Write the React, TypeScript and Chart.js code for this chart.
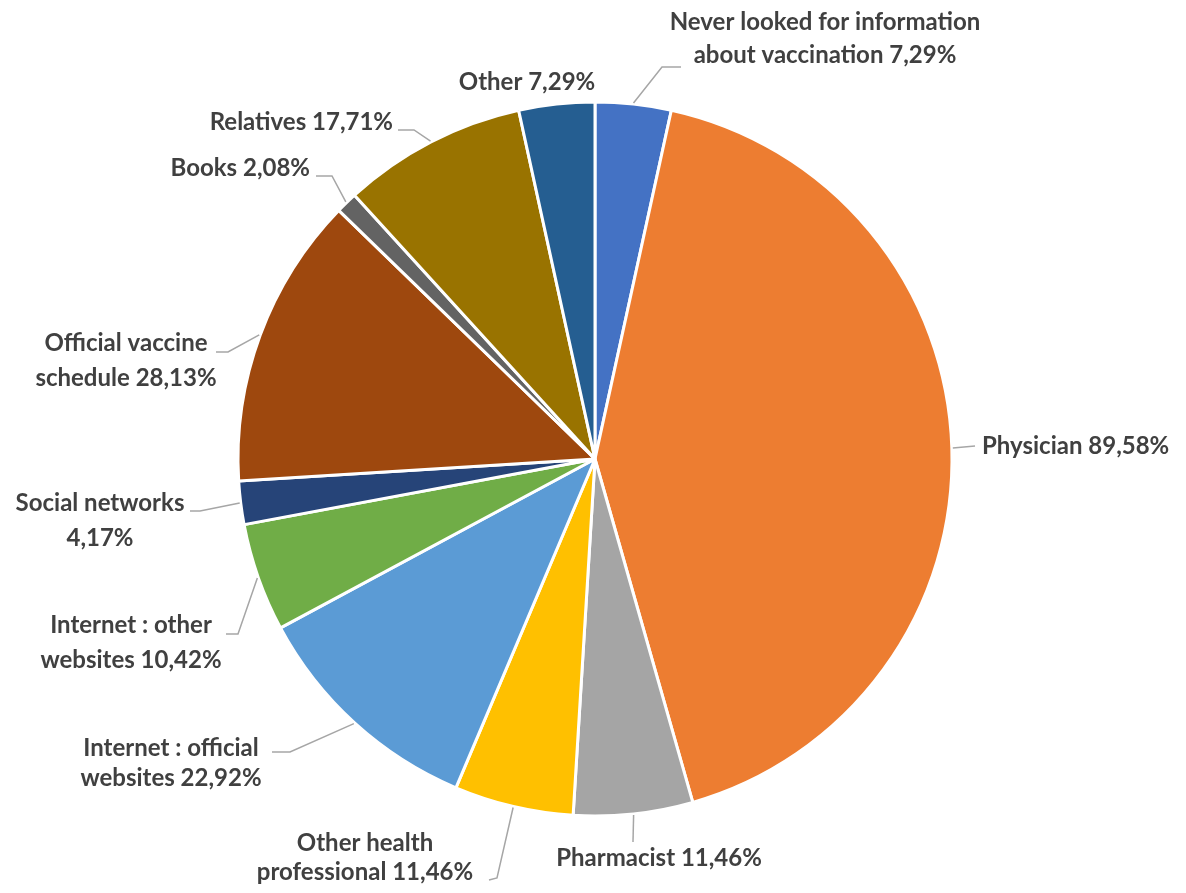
import React, { useEffect, useRef } from "react";
import { Chart, registerables } from "chart.js";

Chart.register(...registerables);

const categories: string[][] = [
  ["Never looked for information", "about vaccination 7,29%"],
  ["Physician 89,58%"],
  ["Pharmacist 11,46%"],
  ["Other health", "professional 11,46%"],
  ["Internet : official", "websites 22,92%"],
  ["Internet : other", "websites 10,42%"],
  ["Social networks", "4,17%"],
  ["Official vaccine", "schedule 28,13%"],
  ["Books 2,08%"],
  ["Relatives 17,71%"],
  ["Other 7,29%"],
];

const values: number[] = [7.29, 89.58, 11.46, 11.46, 22.92, 10.42, 4.17, 28.13, 2.08, 17.71, 7.29];

const colors: string[] = [
  "#4472C4", "#ED7D31", "#A5A5A5", "#FFC000", "#5B9BD5", "#70AD47",
  "#264478", "#9E480E", "#636363", "#997300", "#255E91",
];

// Label layout relative to pie center (px): text anchor, alignment, line offsets, leader path
type Layout = {
  tx: number; ty: number[]; align: CanvasTextAlign;
  leader: number[][]; // points after the arc start point
};
const layouts: Layout[] = [
  { tx: 230, ty: [-437, -404], align: "center", leader: [[67, -392], [86, -392]] },
  { tx: 387, ty: [-13], align: "left", leader: [[380, -13]] },
  { tx: 64, ty: [399], align: "center", leader: [[38, 383]] },
  { tx: -230, ty: [384, 413], align: "center", leader: [[-98, 419], [-106, 421]] },
  { tx: -424, ty: [289, 319], align: "center", leader: [[-305, 293], [-323, 293]] },
  { tx: -464, ty: [166, 201], align: "center", leader: [[-357, 175], [-369, 175]] },
  { tx: -495, ty: [44, 79], align: "center", leader: [[-395, 52], [-405, 52]] },
  { tx: -469, ty: [-116, -81], align: "center", leader: [[-367, -107], [-379, -107]] },
  { tx: -285, ty: [-291], align: "right", leader: [[-263, -283], [-279, -283]] },
  { tx: -202, ty: [-337], align: "right", leader: [[-181, -329], [-197, -329]] },
  { tx: -68, ty: [-377], align: "center", leader: [] },
];

const labelPlugin = {
  id: "outerLabels",
  afterDatasetsDraw(chart: any) {
    const ctx: CanvasRenderingContext2D = chart.ctx;
    const meta = chart.getDatasetMeta(0);
    ctx.save();
    meta.data.forEach((arc: any, i: number) => {
      const { x, y, outerRadius, startAngle, endAngle } = arc.getProps(
        ["x", "y", "outerRadius", "startAngle", "endAngle"], true);
      const mid = (startAngle + endAngle) / 2;
      const L = layouts[i];
      if (L.leader.length) {
        ctx.beginPath();
        ctx.strokeStyle = "#A6A6A6";
        ctx.lineWidth = 1.5;
        ctx.moveTo(x + Math.cos(mid) * (outerRadius + 1), y + Math.sin(mid) * (outerRadius + 1));
        L.leader.forEach((p) => ctx.lineTo(x + p[0], y + p[1]));
        ctx.stroke();
      }
      ctx.fillStyle = "#404040";
      ctx.font = "bold 24px Lato, 'Noto Sans', sans-serif";
      ctx.textAlign = L.align;
      ctx.textBaseline = "middle";
      categories[i].forEach((line, k) => {
        ctx.fillText(line, x + L.tx, y + L.ty[k]);
      });
    });
    ctx.restore();
  },
};

export default function App() {
  const ref = useRef<HTMLCanvasElement | null>(null);
  useEffect(() => {
    if (!ref.current) return;
    const chart = new Chart(ref.current, {
      type: "pie",
      data: {
        labels: categories.map((c) => c.join(" ")),
        datasets: [
          {
            data: values,
            backgroundColor: colors,
            borderColor: "#FFFFFF",
            borderWidth: 3,
          },
        ],
      },
      options: {
        animation: false,
        responsive: false,
        layout: { padding: { left: 228.5, right: 224.5, top: 92.5, bottom: 67.5 } },
        plugins: { legend: { display: false }, tooltip: { enabled: false } },
      },
      plugins: [labelPlugin],
    });
    return () => chart.destroy();
  }, []);
  return (
    <div style={{ width: 1170, height: 877 }}>
      <canvas ref={ref} width={1170} height={877} />
    </div>
  );
}
